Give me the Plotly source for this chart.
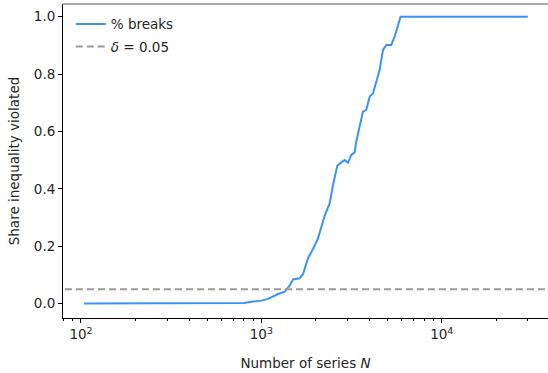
import plotly.graph_objects as go

# Number of series N and the share of cases where the inequality breaks
n_series = [104, 700, 800, 881, 1000, 1089, 1237, 1346, 1435, 1498, 1630, 1702,
            1814, 1933, 2061, 2243, 2390, 2495, 2636, 2775, 2894, 3022, 3152,
            3289, 3359, 3505, 3659, 3817, 3983, 4158, 4338, 4522, 4722, 4926,
            5248, 5476, 5912, 30000]
share_broken = [0.0, 0.0, 0.002, 0.006, 0.01, 0.016, 0.033, 0.041, 0.062, 0.084,
                0.088, 0.103, 0.158, 0.19, 0.227, 0.306, 0.349, 0.413, 0.48,
                0.492, 0.5, 0.491, 0.518, 0.527, 0.565, 0.617, 0.669, 0.675,
                0.721, 0.733, 0.779, 0.814, 0.884, 0.901, 0.901, 0.93, 1.0, 1.0]

delta = 0.05

major_ticks = [100, 1000, 10000]
major_text = ["10<sup>2</sup>", "10<sup>3</sup>", "10<sup>4</sup>"]
minor_ticks = [m * 10 ** e for e in (1, 2, 3, 4) for m in range(2, 10)]
y_ticks = [0.0, 0.2, 0.4, 0.6, 0.8, 1.0]

font = dict(family="DejaVu Sans", size=13.5, color="#262626")
title_font = dict(family="DejaVu Sans", size=13.5, color="#262626")

fig = go.Figure()
fig.add_trace(go.Scatter(
    x=n_series, y=share_broken, mode="lines", name="% breaks",
    legendgroup="a",
    line=dict(color="#3a93f7", width=2),
))
fig.add_trace(go.Scatter(
    x=[10 ** 1.85, 10 ** 4.7], y=[delta, delta], mode="lines",
    name="<i>δ</i> = 0.05", legendgroup="b",
    line=dict(color="#9a9a9a", width=2, dash="7px,4px"),
))

fig.add_shape(type="line", xref="paper", yref="paper", x0=0, x1=1, y0=1, y1=1,
              line=dict(color="#555555", width=1))

fig.update_layout(
    width=548, height=373,
    margin=dict(l=63, r=0, t=4, b=55),
    plot_bgcolor="white", paper_bgcolor="white",
    font=font,
    showlegend=True,
    legend=dict(x=0.016, y=0.985, xanchor="left", yanchor="top",
                bgcolor="rgba(0,0,0,0)", font=dict(size=13.5),
                traceorder="grouped", tracegroupgap=2),
    xaxis=dict(
        type="log", range=[1.9003, 4.589],
        tickmode="array", tickvals=major_ticks, ticktext=major_text,
        ticks="outside", ticklen=4, tickwidth=1, tickcolor="black",
        showline=True, linecolor="black", linewidth=1,
        showgrid=False, zeroline=False,
        minor=dict(tickmode="array", tickvals=minor_ticks, ticks="outside",
                   ticklen=2, tickwidth=1, tickcolor="black", showgrid=False),
        title=dict(text="Number of series <i>N</i>", standoff=17,
                   font=title_font),
    ),
    yaxis=dict(
        range=[-0.0506, 1.0443],
        tickmode="array", tickvals=y_ticks,
        ticktext=[f"{v:.1f}" for v in y_ticks],
        ticks="outside", ticklen=4, tickwidth=1, tickcolor="black",
        showline=True, linecolor="black", linewidth=1,
        showgrid=False, zeroline=False,
        title=dict(text="Share inequality violated", standoff=11,
                   font=title_font),
    ),
)

fig.write_html("out.html")
